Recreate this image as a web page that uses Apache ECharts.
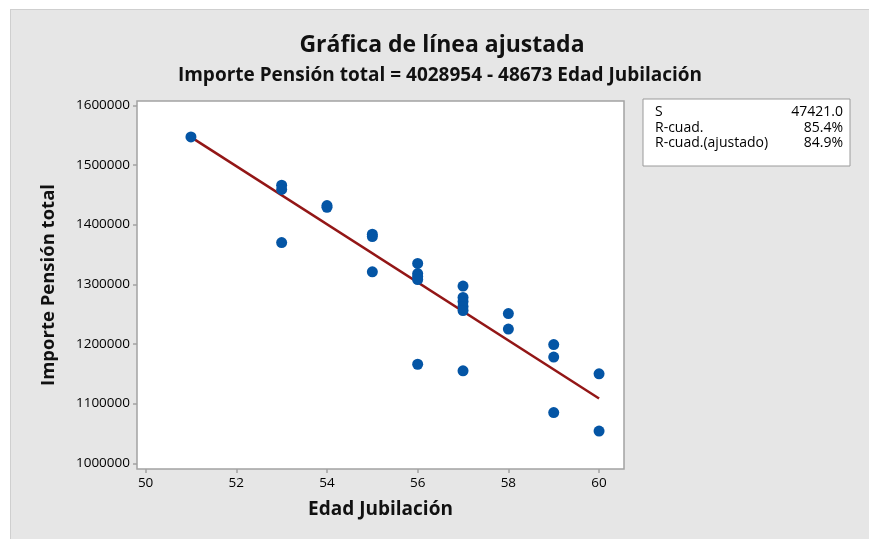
<!DOCTYPE html>
<html>
<head>
<meta charset="utf-8">
<script src="https://cdn.jsdelivr.net/npm/echarts@6/dist/echarts.min.js"></script>
<style>
  html, body { margin: 0; padding: 0; background: #fff; }
  #bg {
    position: absolute; left: 10px; top: 9px; right: 0; bottom: 0;
    background: #e6e6e6; border-top: 1px solid #cfcfcf; border-left: 1px solid #cfcfcf;
  }
  #chart { position: absolute; left: 0; top: 0; width: 869px; height: 539px; }
</style>
</head>
<body>
<div id="bg"></div>
<div id="chart"></div>
<script>
// datos
const edad = [51, 53, 53, 53, 54, 54, 55, 55, 55, 56, 56, 56, 56, 56,
  57, 57, 57, 57, 57, 57, 58, 58, 59, 59, 59, 60, 60];
const importe = [1547000, 1466000, 1459000, 1370000, 1432000, 1429000,
  1384000, 1380000, 1321000, 1335000, 1318000, 1313000, 1308000, 1166000,
  1297000, 1278000, 1271000, 1263000, 1256000, 1155000, 1251000, 1225000,
  1199000, 1178000, 1085000, 1150000, 1054000];
// linea ajustada (extremos)
const ajusteX = [51, 60];
const ajusteY = [1546600, 1108600];
const xTicks = [50, 52, 54, 56, 58, 60];
const yTicks = [1000000, 1100000, 1200000, 1300000, 1400000, 1500000, 1600000];
const statLabels = ["S", "R-cuad.", "R-cuad.(ajustado)"];
const statValues = ["47421.0", "85.4%", "84.9%"];

const font = "'Open Sans', 'Noto Sans', sans-serif";

const statsGraphic = [
  {
    type: "rect",
    shape: { x: 643, y: 99, width: 207, height: 67 },
    style: { fill: "#fff", stroke: "#9a9a9a", lineWidth: 1 },
  },
];
statLabels.forEach((t, i) => {
  statsGraphic.push({
    type: "text", x: 655, y: 112 + i * 15.6,
    style: { text: t, font: "14px " + font, fill: "#000", verticalAlign: "middle", align: "left" },
  });
  statsGraphic.push({
    type: "text", x: 843, y: 112 + i * 15.6,
    style: { text: statValues[i], font: "14px " + font, fill: "#000", verticalAlign: "middle", align: "right" },
  });
});

const chart = echarts.init(document.getElementById("chart"));
chart.setOption({
  backgroundColor: "transparent",
  textStyle: { fontFamily: font },
  title: [
    {
      text: "Gráfica de línea ajustada",
      left: 437, top: 29, textAlign: "center",
      textStyle: { fontSize: 23, fontWeight: "bold", color: "#111", fontFamily: font },
    },
    {
      text: "Importe Pensión total = 4028954 - 48673 Edad Jubilación",
      left: 435, top: 61, textAlign: "center",
      textStyle: { fontSize: 19, fontWeight: "bold", color: "#111", fontFamily: font },
    },
  ],
  grid: {
    left: 137, top: 101, width: 487, height: 368,
    show: true, backgroundColor: "#fff", borderColor: "#a3a3a3", borderWidth: 1.5,
  },
  xAxis: {
    type: "value",
    min: 49.81, max: 60.55,
    name: "Edad Jubilación",
    nameLocation: "middle", nameGap: 31,
    nameTextStyle: { fontSize: 19, fontWeight: "bold", color: "#111", fontFamily: font },
    axisLine: { show: false },
    splitLine: { show: false },
    axisTick: { show: true, length: 4, lineStyle: { color: "#a3a3a3", width: 1.5 }, customValues: xTicks },
    axisLabel: { customValues: xTicks, margin: 7, fontSize: 13.5, color: "#000", fontFamily: font },
  },
  yAxis: {
    type: "value",
    min: 990450, max: 1607200,
    name: "Importe Pensión total",
    nameLocation: "middle", nameGap: 79, nameRotate: 90,
    nameTextStyle: { fontSize: 18.5, fontWeight: "bold", color: "#111", fontFamily: font },
    axisLine: { show: false },
    splitLine: { show: false },
    axisTick: { show: true, length: 4, lineStyle: { color: "#a3a3a3", width: 1.5 }, customValues: yTicks },
    axisLabel: {
      customValues: yTicks, margin: 7, fontSize: 13.5, color: "#000", fontFamily: font,
      formatter: (v) => String(Math.round(v)),
    },
  },
  series: [
    {
      type: "line",
      data: ajusteX.map((x, i) => [x, ajusteY[i]]),
      symbol: "none",
      lineStyle: { color: "#931616", width: 2.5 },
      z: 2,
      silent: true,
    },
    {
      type: "scatter",
      data: edad.map((x, i) => [x, importe[i]]),
      symbol: "circle",
      symbolSize: 11,
      itemStyle: { color: "#0455a5", opacity: 1 },
      z: 3,
    },
  ],
  graphic: statsGraphic,
  animation: false,
});
</script>
</body>
</html>
